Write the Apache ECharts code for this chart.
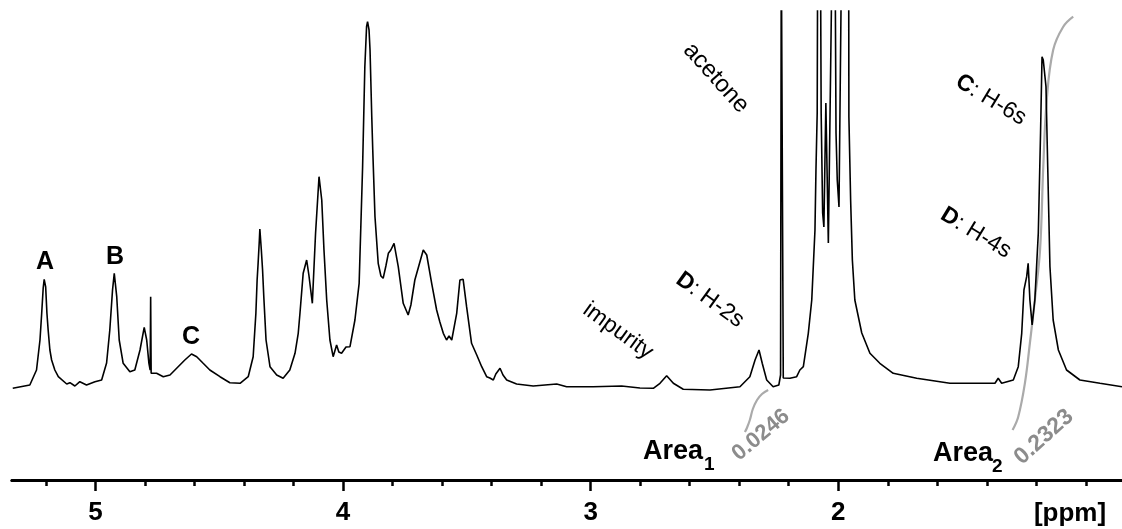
<!DOCTYPE html>
<html>
<head>
<meta charset="utf-8">
<script src="https://cdn.jsdelivr.net/npm/echarts@6/dist/echarts.min.js"></script>
<style>
  html, body { margin: 0; padding: 0; background: #fff; }
  #chart { width: 1122px; height: 529px; }
</style>
</head>
<body>
<div id="chart"></div>
<script>
// chemical shift (ppm) and intensity
const ppm = [
  5.334, 5.265, 5.238, 5.224, 5.217, 5.211, 5.207, 5.201, 5.196, 5.191, 5.184, 5.177, 5.164, 5.150,
  5.116, 5.103, 5.083, 5.063, 5.036, 5.002,
  4.975, 4.955, 4.942, 4.931, 4.924, 4.914, 4.904, 4.888, 4.861, 4.841, 4.820, 4.803, 4.793, 4.784,
  4.779, 4.777, 4.775, 4.753, 4.726, 4.699, 4.679, 4.659, 4.639, 4.612, 4.591, 4.565, 4.538, 4.497,
  4.457, 4.416, 4.383, 4.363, 4.352, 4.347, 4.343, 4.338, 4.336, 4.330, 4.325, 4.320, 4.311, 4.295,
  4.268, 4.242, 4.215, 4.194,
  4.181, 4.174, 4.161, 4.147, 4.138, 4.124, 4.111, 4.097, 4.086, 4.077, 4.066, 4.053, 4.040, 4.026,
  4.017, 4.006, 3.988, 3.972, 3.952, 3.935, 3.921, 3.912, 3.905, 3.901, 3.895, 3.891, 3.884, 3.880,
  3.871, 3.858, 3.847,
  3.838, 3.827, 3.817, 3.807, 3.794, 3.777, 3.757, 3.737, 3.726, 3.710, 3.693, 3.676, 3.662, 3.642,
  3.622, 3.609, 3.595, 3.582, 3.572, 3.561, 3.541, 3.528, 3.515, 3.501, 3.481, 3.460, 3.440, 3.420,
  3.407, 3.393, 3.383, 3.366, 3.354, 3.339, 3.299, 3.232, 3.137, 3.097, 2.990, 2.875, 2.801, 2.747,
  2.720, 2.693, 2.666, 2.626, 2.518, 2.397, 2.357, 2.336, 2.320, 2.307, 2.289, 2.263, 2.240, 2.233,
  2.230, 2.226, 2.222, 2.195, 2.168, 2.155, 2.141, 2.121, 2.107, 2.094, 2.090, 2.085, 2.083, 2.072,
  2.069, 2.063, 2.058, 2.050, 2.040, 2.024, 2.013, 2.009, 2.004, 1.997, 1.986, 1.958, 1.957, 1.950,
  1.943, 1.933, 1.905, 1.872, 1.832, 1.778, 1.683, 1.549, 1.367, 1.354, 1.340, 1.293, 1.273, 1.259,
  1.250, 1.239, 1.233, 1.226, 1.217, 1.206, 1.192, 1.183, 1.177, 1.172, 1.168, 1.161, 1.154, 1.145,
  1.132, 1.111, 1.078, 1.024, 0.943, 0.854
];
const intensity = [
  1.7, 5, 20, 50, 77, 102, 110.7, 103, 77, 60, 40, 30, 20, 13.3,
  6, 7.3, 4, 8.3, 5, 8.3,
  10, 27, 60, 100, 116.7, 93.3, 50, 26.7, 18.3, 20, 40, 62.7, 50, 26.7,
  20, 93.3, 16.7, 16.7, 13.3, 15, 20, 25, 30, 36, 33.3, 26.7, 20, 13.3,
  7.3, 6.7, 13.3, 33.3, 76.7, 110, 126.7, 150, 161, 140, 120, 93, 50, 23.3,
  15, 11.7, 20, 36.7,
  56.7, 76.7, 116.7, 130, 115, 86.7, 156.7, 213.3, 190, 140, 90, 50, 33.3, 45,
  38, 36.7, 43, 43.3, 70, 106.7, 223.3, 323.3, 363.3, 368.3, 360, 340, 273.3, 240,
  173.3, 126.7, 114,
  111.7, 124, 136.7, 140, 146.7, 123.3, 86.7, 75, 85, 110, 125, 140, 135, 106.7,
  80, 68, 56.7, 50, 54, 50, 76.7, 110, 110.7, 83.3, 46.7, 35, 23.3, 13.3,
  12, 10, 16, 21.7, 15, 10, 6, 4, 6, 3.3, 3.3, 4, 2, 1.7,
  6.7, 14.3, 6.7, 0.7, 0, 3.3, 13.3, 30, 40, 26.7, 10, 3.3, 5, 15,
  450, 450, 12, 11.7, 13.3, 20, 23.3, 56.7, 90, 160, 220, 277, 450, 450,
  277, 177, 163, 287, 147, 450, 450, 257, 210, 183, 450, 450, 273, 190,
  130, 90, 57, 36.7, 26.7, 16.7, 11.7, 6.7, 6.7, 11.7, 6.7, 10, 23.3, 56.7,
  100, 113.3, 126.7, 90, 65, 90, 157, 256.7, 333.3, 330, 331.7, 303.3, 223.3, 123.3,
  70, 40, 20, 10, 6.7, 3.3
];

// integral curves
const area1Ppm = [2.283, 2.308, 2.328, 2.345, 2.357, 2.369, 2.377];
const area1Int = [0, -4, -10, -19, -30, -38, -42];
const area2Ppm = [1.051, 1.092, 1.132, 1.158, 1.172, 1.185, 1.206, 1.226, 1.246, 1.273, 1.296];
const area2Int = [373.3, 363, 340, 290, 223.3, 140, 90, 47, 7, -26.7, -40];

// axis ticks
const majorTicks = [2, 3, 4, 5];
const minorTicks = [1.0, 1.2, 1.4, 1.6, 1.8, 2.2, 2.4, 2.6, 2.8, 3.2, 3.4, 3.6, 3.8, 4.2, 4.4, 4.6, 4.8, 5.2];

const FONT = '"Liberation Sans", Arial, Helvetica, sans-serif';

function zip(xs, ys) {
  return xs.map((x, i) => [x, ys[i]]);
}

function label(x, y, text, opts) {
  opts = opts || {};
  return {
    type: 'text',
    x: x,
    y: y,
    rotation: (opts.rot || 0) * Math.PI / 180,
    z: 10,
    style: {
      text: text,
      fontFamily: FONT,
      fontSize: opts.size || 24,
      fontWeight: opts.bold ? 'bold' : 'normal',
      fill: opts.color || '#000',
      align: opts.align || 'center',
      verticalAlign: 'middle',
      rich: {
        b: { fontFamily: FONT, fontSize: opts.size || 24, fontWeight: 'bold', fill: opts.color || '#000' }
      }
    }
  };
}

const chart = echarts.init(document.getElementById('chart'));

const xBase = {
  type: 'value',
  inverse: true,
  min: 0.854,
  max: 5.337,
  position: 'bottom',
  splitLine: { show: false },
  axisLine: { show: true, onZero: false, lineStyle: { color: '#000', width: 3 } }
};

chart.setOption({
  animation: false,
  backgroundColor: '#fff',
  grid: { left: 12, right: 0, top: 11, bottom: 49 },
  xAxis: [
    Object.assign({}, xBase, {
      axisTick: { show: true, customValues: majorTicks, length: 11, lineStyle: { color: '#000', width: 2.5 } },
      axisLabel: {
        show: true, customValues: majorTicks, margin: 20,
        fontFamily: FONT, fontSize: 26, fontWeight: 'bold', color: '#000'
      }
    }),
    Object.assign({}, xBase, {
      axisTick: { show: true, customValues: minorTicks, length: 6, lineStyle: { color: '#000', width: 2.5 } },
      axisLabel: { show: false }
    })
  ],
  yAxis: { type: 'value', min: -90, max: 379, show: false },
  series: [
    {
      type: 'line',
      xAxisIndex: 0,
      data: zip(ppm, intensity),
      showSymbol: false,
      lineStyle: { color: '#000', width: 1.6 },
      clip: true,
      z: 3
    },
    {
      type: 'line',
      data: zip(area1Ppm, area1Int),
      showSymbol: false,
      smooth: 0.4,
      lineStyle: { color: '#aaaaaa', width: 2.2 },
      z: 2
    },
    {
      type: 'line',
      data: zip(area2Ppm, area2Int),
      showSymbol: false,
      smooth: 0.4,
      lineStyle: { color: '#aaaaaa', width: 2.2 },
      z: 2
    }
  ],
  graphic: [
    label(45, 262, 'A', { bold: true, size: 25 }),
    label(115, 257, 'B', { bold: true, size: 25 }),
    label(191, 337, 'C', { bold: true, size: 25 }),
    label(716, 78, 'acetone', { size: 24, rot: -48 }),
    label(618, 331, 'impurity', { size: 23, rot: -36 }),
    label(710, 300, '{b|D}: H-2s', { size: 23, rot: -36 }),
    label(991, 100, '{b|C}: H-6s', { size: 23, rot: -31 }),
    label(976, 233, '{b|D}: H-4s', { size: 23, rot: -31 }),
    label(643, 452, 'Area', { bold: true, size: 27, align: 'left' }),
    label(704, 465, '1', { bold: true, size: 19, align: 'left' }),
    label(933, 454, 'Area', { bold: true, size: 27, align: 'left' }),
    label(992, 467, '2', { bold: true, size: 19, align: 'left' }),
    label(761, 435, '0.0246', { bold: true, size: 22, rot: 40, color: '#8c8c8c' }),
    label(1044, 437, '0.2323', { bold: true, size: 23, rot: 42, color: '#8c8c8c' }),
    label(1070, 514, '[ppm]', { bold: true, size: 26 })
  ]
});
</script>
</body>
</html>
